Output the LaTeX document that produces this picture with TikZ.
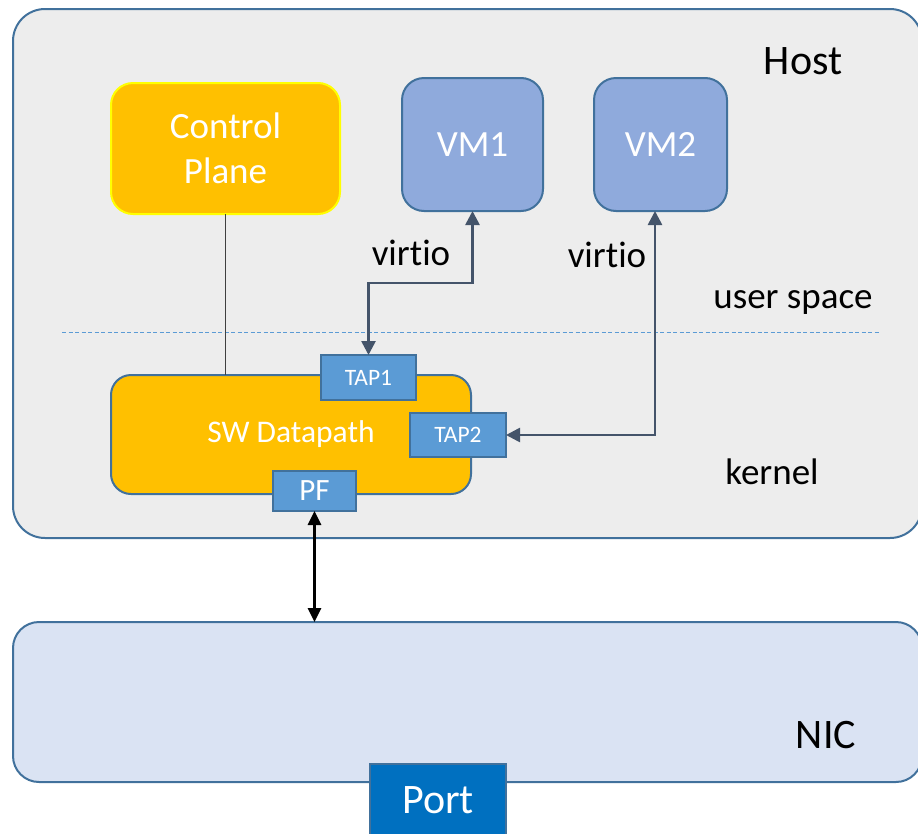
\documentclass[tikz,border=0pt]{standalone}
\usepackage{fontspec}
\setmainfont{Carlito}[Ligatures={NoCommon,NoContextual}]
\usetikzlibrary{arrows.meta}

\definecolor{edge}{HTML}{41719C}
\definecolor{hostfill}{HTML}{EDEDED}
\definecolor{nicfill}{HTML}{DAE3F3}
\definecolor{gold}{HTML}{FFC000}
\definecolor{brightyellow}{HTML}{FFFF00}
\definecolor{vmfill}{HTML}{8FAADC}
\definecolor{tapfill}{HTML}{5B9BD5}
\definecolor{portfill}{HTML}{0070C0}
\definecolor{slate}{HTML}{44546A}
\definecolor{dashblue}{HTML}{5B9BD5}
\definecolor{darkline}{HTML}{404040}

\begin{document}
\begin{tikzpicture}[x=1pt,y=-1pt,
  box/.style={draw=edge, line width=2pt, inner sep=0pt, outer sep=0pt,
    text=white, align=center},
  big/.style={font=\fontsize{37}{45}\selectfont},
  huge/.style={font=\fontsize{42}{50}\selectfont},
  plain/.style={inner sep=0pt, outer sep=0pt, anchor=base, text=black},
  conn/.style={slate, line width=2.6pt,
    arrows={Triangle[width=14pt,length=14pt]-Triangle[width=14pt,length=14pt]}},
  blackconn/.style={black, line width=2.8pt,
    arrows={Triangle[width=13pt,length=14pt]-Triangle[width=13pt,length=14pt]}}
]
\useasboundingbox (0,0) rectangle (918,833);
\clip (0,0) rectangle (918,833);

% host and NIC frames
\node[box, fill=hostfill, rounded corners=32pt,
  minimum width=909pt, minimum height=529pt] (host) at (467.5,273.5) {};
\node[box, fill=nicfill, rounded corners=26pt,
  minimum width=909pt, minimum height=160pt] (nic) at (467.5,702) {};

% user space / kernel boundary
\coordinate (dl) at (62,332);
\coordinate (dr) at (880,332);
\draw[dashblue, line width=1pt, dash pattern=on 4pt off 2.5pt] (dl) -- (dr);

% user space boxes
\node[box, big, draw=brightyellow, fill=gold, rounded corners=22pt,
  minimum width=229pt, minimum height=131pt] (cp) at (225.5,148.5) {Control\\Plane};
\node[box, big, fill=vmfill, rounded corners=22pt,
  minimum width=141pt, minimum height=133pt] (vm1) at (472.5,144.5) {VM1};
\node[box, big, fill=vmfill, rounded corners=22pt,
  minimum width=133pt, minimum height=133pt] (vm2) at (660.5,144.5) {VM2};

% kernel datapath with its interfaces
\node[box, fill=gold, rounded corners=20pt, font=\fontsize{31.5}{37}\selectfont,
  minimum width=360pt, minimum height=119pt] (sw) at (291,434.5) {SW Datapath};
\node[box, fill=tapfill, font=\fontsize{23.5}{28}\selectfont,
  minimum width=95pt, minimum height=45pt] (tap1) at (368.5,377.5) {TAP1};
\node[box, fill=tapfill, font=\fontsize{23.5}{28}\selectfont,
  minimum width=96pt, minimum height=44pt] (tap2) at (458,435) {TAP2};
\node[box, fill=tapfill, font=\fontsize{31}{37}\selectfont,
  minimum width=83pt, minimum height=40pt] (pf) at (314.5,491) {PF};

% NIC port
\node[box, huge, fill=portfill, minimum width=136pt, minimum height=72pt]
  (port) at (438,800) {Port};

% connectors
\draw[darkline, line width=1.4pt] (cp.south) -- (cp.south |- sw.north);
\coordinate (v1) at (470,283);
\draw[conn] (tap1.north) -- (tap1.north |- v1) -| (vm1.south);
\coordinate (v2) at (655,435);
\draw[conn] (tap2.east) -- (v2) -- (v2 |- vm2.south);
\draw[blackconn] (pf.south) -- (pf.south |- nic.north);

% labels
\node[plain, huge] (hostlabel) at (803,74) {Host};
\node[plain, big] (virtio1) at (411,265) {virtio};
\node[plain, big] (virtio2) at (607,267) {virtio};
\node[plain, big] (userspace) at (793,308) {user space};
\node[plain, big] (kernel) at (772,484) {kernel};
\node[plain, huge] (niclabel) at (826,748) {NIC};
\end{tikzpicture}
\end{document}
